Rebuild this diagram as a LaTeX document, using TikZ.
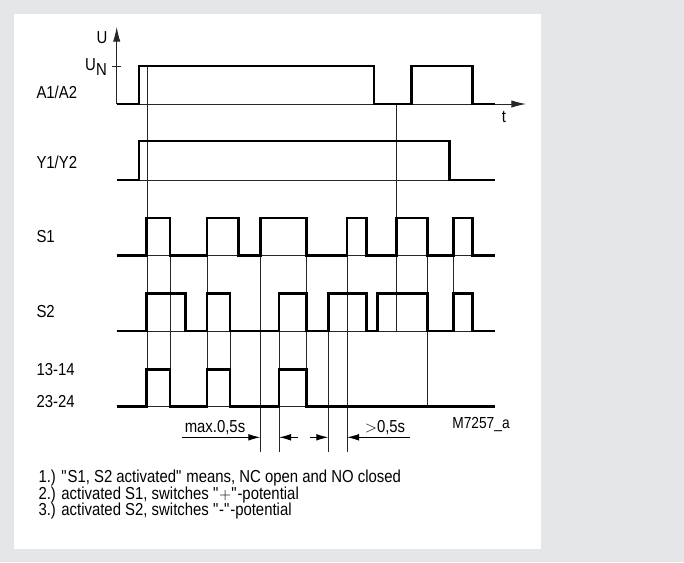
\documentclass[tikz,border=0pt]{standalone}
\usepackage{fontspec}
\setmainfont{Liberation Sans}[FakeStretch=0.86]
\usetikzlibrary{arrows.meta}

\definecolor{panelgray}{RGB}{229,230,232}

\tikzset{every picture/.style={line width=0.75pt}}
\tikzset{
  wave/.style={line width=2.2pt, line join=miter, line cap=butt},
  thinline/.style={line width=0.7pt, black!85},
  axisarrow/.style={-{Latex[length=11pt,width=5.5pt]}},
  dimarrow/.style={-{Latex[length=9pt,width=5pt]}, line width=0.7pt},
  txt/.style={inner sep=0.75pt, font=\fontsize{13}{15}\selectfont},
  siglabel/.style={txt, anchor=west},
  notetext/.style={txt, anchor=west},
}

\begin{document}
\begin{tikzpicture}[x=0.75pt,y=0.75pt,yscale=-1,xscale=1]
    \useasboundingbox (0,0) rectangle (684,562);

    %Shape: Background
    \fill [panelgray] (0,0) rectangle (684,562);
    \fill [white] (14,14) rectangle (541,549);

    %Shape: Axis U / t
    \coordinate (orig) at (116.7,104);
    \coordinate (utip) at (116.7,27);
    \coordinate (ttip) at (526,104);
    \draw [thinline, axisarrow] (orig) -- (utip);
    \draw [thinline, axisarrow] (orig) -- (ttip);
    \draw [thinline] (112,66) -- (121,66);

    %Straight Lines: signal baselines
    \foreach \y in {180,255.5,331,406.7}
      \draw [thinline] (116.7,\y) -- (495,\y);

    %Straight Lines: time markers
    \foreach \x/\ya/\yb in {147/66/406.7, 170/218/406.7, 207/218/406.7, 230/293.3/406.7,
                            260.3/218/451.7, 279/293.3/451.7, 306/218/406.7, 328.3/293.3/451.7,
                            347/218/451.7, 396.7/104/331, 427.3/218/406.7, 453.3/218/331}
      \draw [thinline] (\x,\ya) -- (\x,\yb);

    %Curve Lines: A1/A2
    \draw [wave] (116.7,104) -| (139,66) -| (374,104) -| (411.7,66) -| (472.3,104) -- (495,104);
    %Curve Lines: Y1/Y2
    \draw [wave] (116.7,180) -| (139,141) -| (449.3,180) -- (495,180);
    %Curve Lines: S1
    \draw [wave] (116.7,255.5) -| (146.7,218) -| (170,255.5) -| (207,218) -| (238.3,255.5)
                 -| (260.3,218) -| (306.3,255.5) -| (347,218) -| (366.7,255.5) -| (396.7,218)
                 -| (427.3,255.5) -| (453.3,218) -| (472.3,255.5) -- (495,255.5);
    %Curve Lines: S2
    \draw [wave] (116.7,331) -| (146.7,293.3) -| (185.7,331) -| (207,293.3) -| (230,331)
                 -| (279,293.3) -| (306.3,331) -| (328.3,293.3) -| (366.7,331) -| (377.3,293.3)
                 -| (427.3,331) -| (453.3,293.3) -| (472.3,331) -- (495,331);
    %Curve Lines: 13-14 / 23-24
    \draw [wave] (116.7,406.7) -| (146.7,369.3) -| (170,406.7) -| (207,369.3) -| (230,406.7)
                 -| (279,369.3) -| (306.3,406.7) -- (495,406.7);

    %Straight Lines: dimension arrows
    \coordinate (maxa) at (181.7,437.3);
    \coordinate (maxb) at (260.3,437.3);
    \coordinate (maxc) at (279,437.3);
    \coordinate (maxd) at (298.3,437.3);
    \coordinate (mina) at (310,437.3);
    \coordinate (minb) at (328.3,437.3);
    \coordinate (minc) at (347,437.3);
    \coordinate (mind) at (410,437.3);
    \draw [dimarrow] (maxa) -- (maxb);
    \draw [dimarrow] (maxd) -- (maxc);
    \draw [dimarrow] (mina) -- (minb);
    \draw [dimarrow] (mind) -- (minc);

    % Text Node
    \node (ulab) at (102,38) [txt] {U};
    % Text Node
    \node (unlab) at (96,67) [txt] {U\raisebox{-3.5pt}{N}};
    % Text Node
    \node (tlab) at (504,117) [txt] {t};
    % Text Node
    \node (a1a2) at (35,92) [siglabel] {A1/A2};
    % Text Node
    \node (y1y2) at (35,162) [siglabel] {Y1/Y2};
    % Text Node
    \node (s1) at (35,237) [siglabel] {S1};
    % Text Node
    \node (s2) at (35,312) [siglabel] {S2};
    % Text Node
    \node (c1314) at (35,370) [siglabel] {13-14};
    % Text Node
    \node (c2324) at (35,402) [siglabel] {23-24};
    % Text Node
    \node (maxlab) at (215,428) [txt] {max.0,5s};
    % Text Node
    \node (minlab) at (385,428) [txt] {$>$0,5s};
    % Text Node
    \node (figno) at (481,424) [txt, font=\fontsize{12}{14}\selectfont] {M7257\_a};
    % Text Node
    \node (note1) at (37,478) [notetext] {1.) \textquotedbl S1, S2 activated\textquotedbl{} means, NC open and NO closed};
    % Text Node
    \node (note2) at (37,495) [notetext] {2.) activated S1, switches \textquotedbl$+$\textquotedbl-potential};
    % Text Node
    \node (note3) at (37,511) [notetext] {3.) activated S2, switches \textquotedbl-\textquotedbl-potential};

\end{tikzpicture}
\end{document}
